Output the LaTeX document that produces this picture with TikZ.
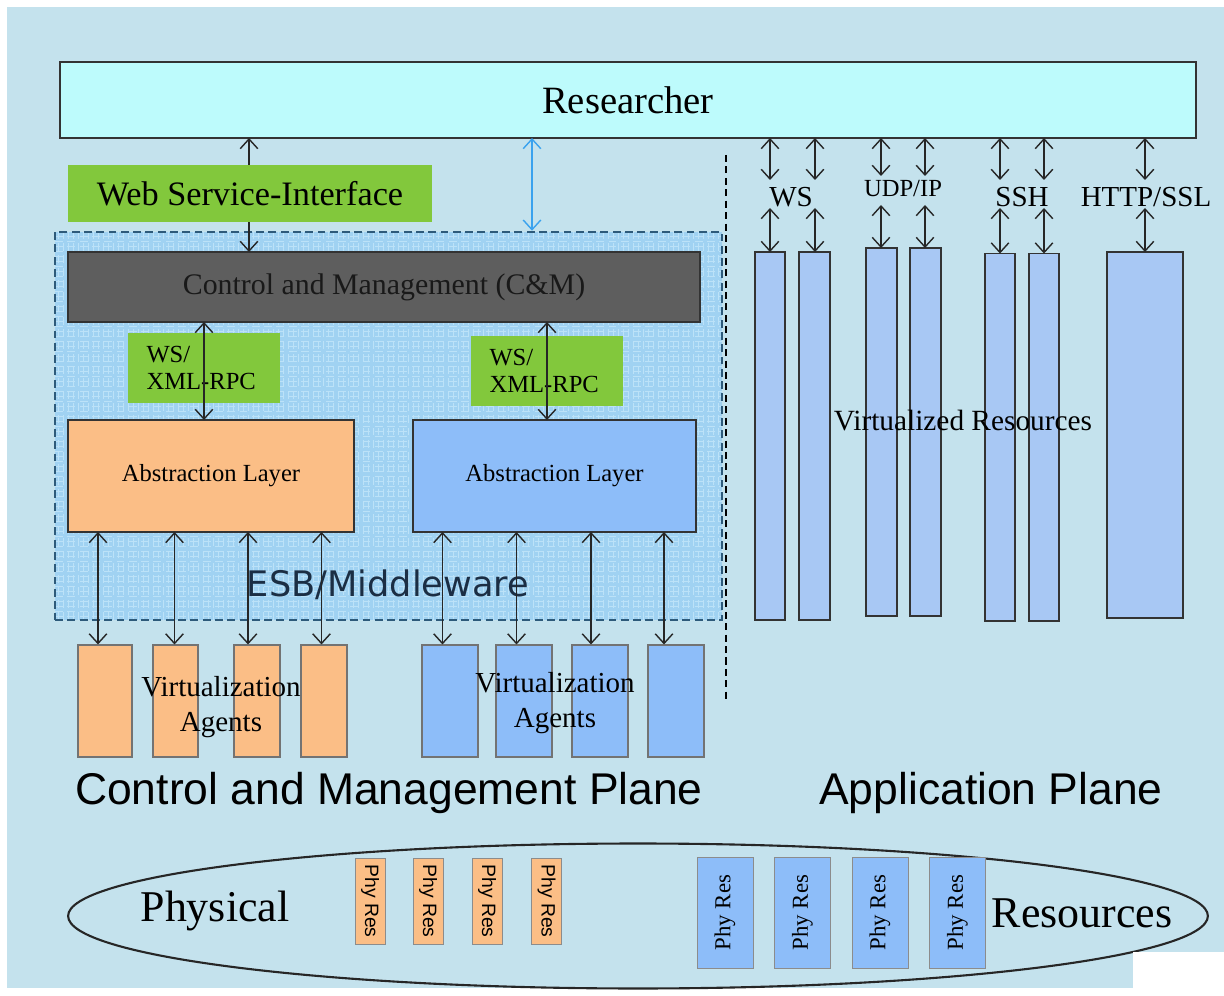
\documentclass[tikz,border=0pt]{standalone}
\usepackage{fontspec}
\setmainfont{Liberation Serif}
\newfontfamily\arialf{Liberation Sans}
\newfontfamily\dejavuf{DejaVu Sans}
\usetikzlibrary{arrows.meta,shapes.geometric}
\definecolor{bgc}{HTML}{C4E2ED}
\definecolor{resc}{HTML}{BDFBFC}
\definecolor{greenc}{HTML}{82C83C}
\definecolor{cmc}{HTML}{5E5E5E}
\definecolor{orc}{HTML}{FBBE86}
\definecolor{bluc}{HTML}{8DBDF9}
\definecolor{colc}{HTML}{A8C8F4}
\definecolor{esbfill}{HTML}{A0D2F2}
\definecolor{esbgrid}{HTML}{BCE2F8}
\definecolor{esbline}{HTML}{2D5A7A}
\definecolor{esbtext}{HTML}{1B2E44}
\definecolor{lblue}{HTML}{3AA2EE}
\tikzset{
  box/.style={draw=black!80, line width=1.1pt, inner sep=0pt, outer sep=0pt},
  gbox/.style={fill=greenc, inner sep=0pt, outer sep=0pt},
  agento/.style={draw=black!55, line width=0.6pt, fill=orc, inner sep=0pt, minimum height=2.24cm},
  agentb/.style={draw=black!55, line width=0.6pt, fill=bluc, inner sep=0pt, minimum height=2.24cm},
  colbox/.style={box, fill=colc, minimum height=7.36cm},
  dbl/.style={line width=0.8pt, draw=black!85, {Straight Barb[length=5.5pt,width=10pt]}-{Straight Barb[length=5.5pt,width=10pt]}},
  lbl/.style={font=\fontsize{16.5}{20}\selectfont, inner sep=0pt},
  phyo/.style={fill=orc, draw=black!45, line width=0.5pt, rotate=-90, minimum width=1.72cm, minimum height=0.6cm, inner sep=0pt, font=\arialf\fontsize{11}{13}\selectfont},
  phyb/.style={fill=bluc, draw=black!45, line width=0.5pt, rotate=90, minimum width=2.22cm, minimum height=1.12cm, inner sep=0pt, font=\fontsize{13}{15}\selectfont},
  esbbox/.style={draw=esbline, line width=1.5pt, dash pattern=on 4.5pt off 2.5pt, fill=esbfill, inner sep=0pt,
    path picture={\draw[esbgrid, line width=0.35pt, step=0.1cm] (path picture bounding box.south west) grid (path picture bounding box.north east);}}
}
\begin{document}
\begin{tikzpicture}[x=0.02cm,y=-0.02cm]
\useasboundingbox (0,0) rectangle (1224,996);
\fill[white] (0,0) rectangle (1224,996);
\fill[bgc] (7,7) rectangle (1224,988);

% ESB / middleware region
\node[esbbox, minimum width=13.34cm, minimum height=7.76cm] (esb) at (388.5,426) {};

% Researcher
\node[box, fill=resc, minimum width=22.72cm, minimum height=1.52cm, font=\fontsize{22}{26}\selectfont] (res) at (628,100) {Researcher};

% Control and Management
\node[box, fill=cmc, minimum width=12.64cm, minimum height=1.4cm, font=\fontsize{17}{20}\selectfont, text=black!90] (cm) at (384,287) {Control and Management (C\&M)};

% arrow researcher -> C&M (behind web service box)
\draw[dbl] (res.south -| 249,0) -- (cm.north -| 249,0);
\node[gbox, minimum width=7.28cm, minimum height=1.14cm, font=\fontsize{19.5}{23}\selectfont] (wsi) at (250,193.5) {Web Service-Interface};

% blue arrow researcher -> ESB
\draw[dbl, draw=lblue] (res.south -| 532,0) -- (esb.north -| 532,0);

% WS/XML-RPC boxes
\node[gbox, minimum width=3.04cm, minimum height=1.4cm, text width=2.3cm, align=left, inner xsep=0.37cm, font=\fontsize{14}{15}\selectfont] (wsl) at (204,368) {WS/\\XML-RPC};
\node[gbox, minimum width=3.04cm, minimum height=1.4cm, text width=2.3cm, align=left, inner xsep=0.37cm, font=\fontsize{14}{15}\selectfont] (wsr) at (547,371) {WS/\\XML-RPC};

% Abstraction layers
\node[box, fill=orc, minimum width=5.72cm, minimum height=2.24cm, font=\fontsize{14}{17}\selectfont] (oal) at (211,476) {Abstraction Layer};
\node[box, fill=bluc, minimum width=5.66cm, minimum height=2.24cm, font=\fontsize{14}{17}\selectfont] (bal) at (554.5,476) {Abstraction Layer};

\draw[dbl] (cm.south -| wsl.center) -- (oal.north -| wsl.center);
\draw[dbl] (cm.south -| wsr.center) -- (bal.north -| wsr.center);

\node[font=\dejavuf\fontsize{20}{24}\selectfont, text=esbtext, inner sep=0pt] (esbt) at (388,585) {ESB/Middleware};

% Virtualization agents
\node[agento, minimum width=1.08cm] (oa1) at (105,701) {};
\node[agento, minimum width=0.90cm] (oa2) at (175.5,701) {};
\node[agento, minimum width=0.92cm] (oa3) at (257,701) {};
\node[agento, minimum width=0.92cm] (oa4) at (324,701) {};
\node[agentb, minimum width=1.12cm] (ba1) at (450,701) {};
\node[agentb, minimum width=1.12cm] (ba2) at (524,701) {};
\node[agentb, minimum width=1.12cm] (ba3) at (600,701) {};
\node[agentb, minimum width=1.12cm] (ba4) at (676,701) {};

\draw[dbl] ([xshift=-0.14cm]oa1.north |- oal.south) -- ([xshift=-0.14cm]oa1.north);
\draw[dbl] ([xshift=-0.02cm]oa2.north |- oal.south) -- ([xshift=-0.02cm]oa2.north);
\draw[dbl] ([xshift=-0.18cm]oa3.north |- oal.south) -- ([xshift=-0.18cm]oa3.north);
\draw[dbl] ([xshift=-0.05cm]oa4.north |- oal.south) -- ([xshift=-0.05cm]oa4.north);
\draw[dbl] ([xshift=-0.15cm]ba1.north |- bal.south) -- ([xshift=-0.15cm]ba1.north);
\draw[dbl] ([xshift=-0.15cm]ba2.north |- bal.south) -- ([xshift=-0.15cm]ba2.north);
\draw[dbl] ([xshift=-0.18cm]ba3.north |- bal.south) -- ([xshift=-0.18cm]ba3.north);
\draw[dbl] ([xshift=-0.24cm]ba4.north |- bal.south) -- ([xshift=-0.24cm]ba4.north);

\node[font=\fontsize{16.5}{20}\selectfont, align=center, inner sep=0pt] (vat1) at (221,707) {Virtualization\\Agents};
\node[font=\fontsize{16.5}{20}\selectfont, align=center, inner sep=0pt] (vat2) at (555,703) {Virtualization\\Agents};

% plane labels
\node[font=\arialf\fontsize{25.3}{30}\selectfont, inner sep=0pt] (cmp) at (389,793) {Control and Management Plane};
\node[font=\arialf\fontsize{25.3}{30}\selectfont, inner sep=0pt] (app) at (991,793) {Application Plane};

% separator
\coordinate (vd1) at (726,155);
\coordinate (vd2) at (726,700);
\draw[black, line width=1.2pt, dash pattern=on 4pt off 2.5pt] (vd1) -- (vd2);

% Virtualized resources columns
\node[colbox, minimum width=0.6cm] (r1) at (770,436) {};
\node[colbox, minimum width=0.62cm] (r2) at (814.5,436) {};
\node[colbox, minimum width=0.62cm] (r3) at (881.5,432) {};
\node[colbox, minimum width=0.62cm] (r4) at (925.5,432) {};
\node[colbox, minimum width=0.6cm] (r5) at (1000,437.5) {};
\node[colbox, minimum width=0.6cm] (r6) at (1044,437.5) {};
\node[colbox, minimum width=1.52cm, minimum height=7.32cm] (r7) at (1145,435) {};

\node[font=\fontsize{16.7}{20}\selectfont, inner sep=0pt] (vr) at (963,421) {Virtualized Resources};

% protocol labels
\node[lbl] (lws) at (791,197) {WS};
\node[lbl, font=\fontsize{14}{16}\selectfont] (ludp) at (903,189) {UDP/IP};
\node[lbl] (lssh) at (1022,197) {SSH};
\node[lbl] (lhttp) at (1146,197) {HTTP/SSL};

\coordinate (u1) at (770,180);  \coordinate (d1) at (770,208);
\coordinate (u2) at (815,180);  \coordinate (d2) at (815,208);
\coordinate (u3) at (881,176);  \coordinate (d3) at (881,205);
\coordinate (u4) at (925,176);  \coordinate (d4) at (925,205);
\coordinate (u5) at (1000,180); \coordinate (d5) at (1000,208);
\coordinate (u6) at (1044,180); \coordinate (d6) at (1044,208);
\coordinate (u7) at (1145,180); \coordinate (d7) at (1145,208);

\foreach \i in {1,...,7}{
  \draw[dbl] (res.south -| u\i) -- (u\i);
  \draw[dbl] (d\i) -- (r\i.north -| d\i);
}

% Physical resources
\node[draw=black!85, line width=1.2pt, ellipse, minimum width=22.8cm, minimum height=2.9cm, inner sep=0pt] (phys) at (638,916) {};
\node[font=\fontsize{25}{30}\selectfont, inner sep=0pt] (physt) at (215,911) {Physical};
\node[font=\fontsize{25}{30}\selectfont, inner sep=0pt] (rest) at (1082,913) {Resources};

\node[phyo] (po1) at (370,901) {Phy Res};
\node[phyo] (po2) at (428,901) {Phy Res};
\node[phyo] (po3) at (487,901) {Phy Res};
\node[phyo] (po4) at (546.5,901) {Phy Res};
\node[phyb] (pb1) at (725,912.5) {Phy Res};
\node[phyb] (pb2) at (802.5,912.5) {Phy Res};
\node[phyb] (pb3) at (880,912.5) {Phy Res};
\node[phyb] (pb4) at (957.5,912.5) {Phy Res};

\fill[white] (1133,952) rectangle (1224,996);
\end{tikzpicture}
\end{document}
